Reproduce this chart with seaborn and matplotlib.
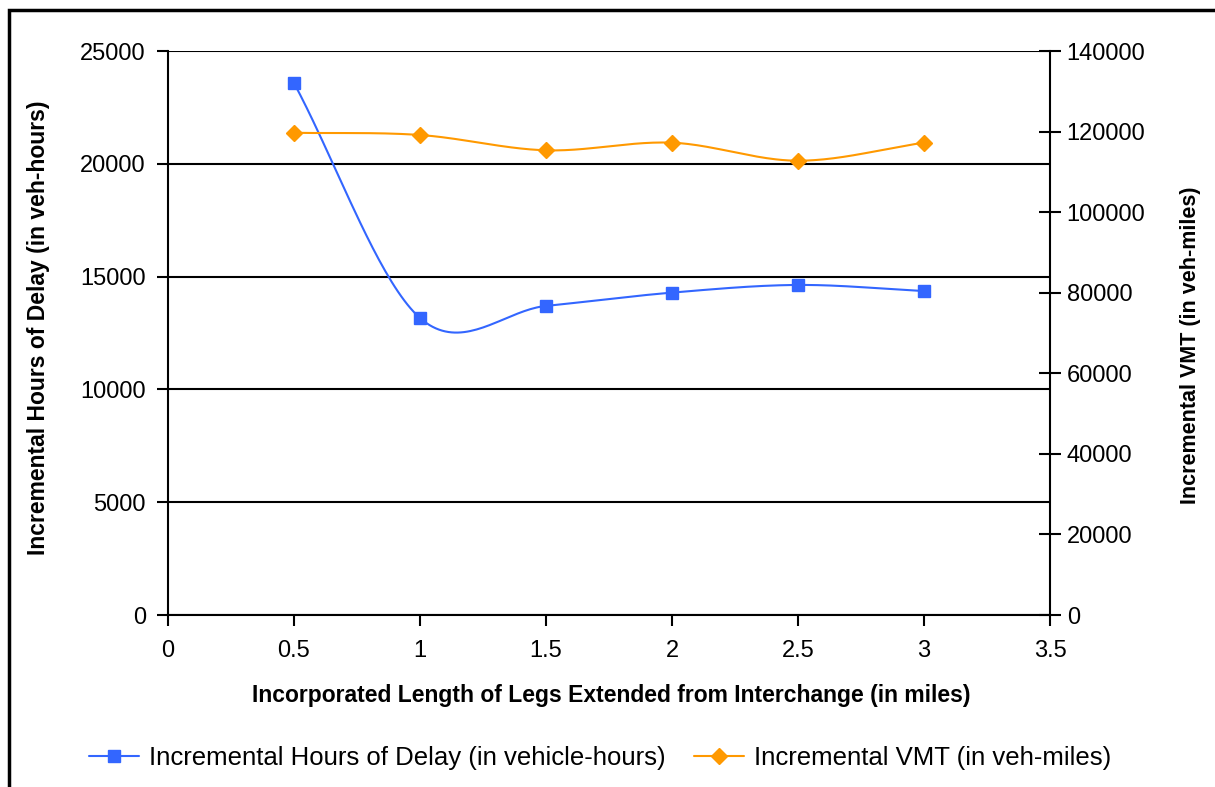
import matplotlib
matplotlib.use("Agg")
import matplotlib.pyplot as plt
import numpy as np
import pandas as pd
import seaborn as sns

# data
leg_length_mi = [0.5, 1.0, 1.5, 2.0, 2.5, 3.0]
delay_veh_hours = [23580, 13165, 13700, 14290, 14630, 14360]
vmt_veh_miles = [119700, 119150, 115350, 117240, 112770, 117240]

delay_label = "Incremental Hours of Delay (in vehicle-hours)"
vmt_label = "Incremental VMT (in veh-miles)"
x_title = "Incorporated Length of Legs Extended from Interchange (in miles)"
y_left_title = "Incremental Hours of Delay (in veh-hours)"
y_right_title = "Incremental VMT (in veh-miles)"

BLUE = "#3366FF"
ORANGE = "#FF9900"


def smooth(x, y, n=40):
    """Excel-like smoothed line: cubic Hermite with Catmull-Rom tangents."""
    x = np.asarray(x, float)
    y = np.asarray(y, float)
    m = np.zeros_like(y)
    m[1:-1] = (y[2:] - y[:-2]) / (x[2:] - x[:-2])
    m[0] = (y[1] - y[0]) / (x[1] - x[0])
    m[-1] = (y[-1] - y[-2]) / (x[-1] - x[-2])
    xs, ys = [], []
    for i in range(len(x) - 1):
        h = x[i + 1] - x[i]
        t = np.linspace(0, 1, n, endpoint=(i == len(x) - 2))
        h00 = 2 * t**3 - 3 * t**2 + 1
        h10 = t**3 - 2 * t**2 + t
        h01 = -2 * t**3 + 3 * t**2
        h11 = t**3 - t**2
        xs.append(x[i] + t * h)
        ys.append(h00 * y[i] + h10 * h * m[i] + h01 * y[i + 1] + h11 * h * m[i + 1])
    return pd.DataFrame({"x": np.concatenate(xs), "y": np.concatenate(ys)})


sns.set_style("white")
plt.rcParams["font.family"] = ["Liberation Sans", "DejaVu Sans"]
plt.rcParams["text.color"] = "black"
plt.rcParams["axes.labelcolor"] = "black"
plt.rcParams["xtick.color"] = "black"
plt.rcParams["ytick.color"] = "black"

fig = plt.figure(figsize=(12.15, 7.87), dpi=100)
ax = fig.add_axes([168 / 1215, 1 - 615 / 787, 882 / 1215, 564 / 787])
ax2 = ax.twinx()

# outer chart border
fig.patches.append(plt.Rectangle((9 / 1215, -0.05), 1.1, 1 - 10 / 787 + 0.05,
                                 transform=fig.transFigure, fill=False,
                                 edgecolor="black", linewidth=2.5))

# delay series (left axis)
sns.lineplot(data=smooth(leg_length_mi, delay_veh_hours), x="x", y="y", ax=ax,
             color=BLUE, linewidth=1.5, sort=False, estimator=None)
ax.plot(leg_length_mi, delay_veh_hours, linestyle="none", marker="s",
        markersize=8, color=BLUE, zorder=5)

# VMT series (right axis)
sns.lineplot(data=smooth(leg_length_mi, vmt_veh_miles), x="x", y="y", ax=ax2,
             color=ORANGE, linewidth=1.5, sort=False, estimator=None)
ax2.plot(leg_length_mi, vmt_veh_miles, linestyle="none", marker="D",
         markersize=8.5, color=ORANGE, zorder=5)

ax.set_xlim(0, 3.5)
ax.set_ylim(0, 25000)
ax2.set_ylim(0, 140000)
ax.set_xticks(np.arange(0, 3.51, 0.5))
ax.set_xticklabels(["0", "0.5", "1", "1.5", "2", "2.5", "3", "3.5"])
ax.set_yticks(np.arange(0, 25001, 5000))
ax2.set_yticks(np.arange(0, 140001, 20000))

ax.yaxis.grid(True, color="black", linewidth=1.5)
ax.set_axisbelow(True)
for a in (ax, ax2):
    for s in ("top", "right", "left", "bottom"):
        a.spines[s].set_visible(False)
ax.spines["left"].set_visible(True)
ax.spines["bottom"].set_visible(True)
ax2.spines["right"].set_visible(True)
for s in ("left", "bottom"):
    ax.spines[s].set_color("black")
    ax.spines[s].set_linewidth(1.5)
ax2.spines["right"].set_color("black")
ax2.spines["right"].set_linewidth(1.5)

ax.tick_params(axis="both", direction="out", length=8, width=1.5, color="black",
               labelsize=17, labelcolor="black", left=True, bottom=True)
ax.tick_params(axis="y", pad=8)
ax.tick_params(axis="x", pad=10)
ax2.tick_params(axis="y", direction="inout", length=16, width=1.5, color="black",
                labelsize=17, labelcolor="black", right=True, pad=4)

ax.set_xlabel(x_title, fontsize=16.5, fontweight="bold", color="black")
ax.xaxis.set_label_coords(0.503, -0.123)
ax.set_ylabel(y_left_title, fontsize=16.5, fontweight="bold", color="black")
ax.yaxis.set_label_coords(-0.134, 0.51)
ax2.set_ylabel(y_right_title, fontsize=15.5, fontweight="bold", color="black")
ax2.yaxis.set_label_coords(1.147, 0.479)

handles = [
    plt.Line2D([], [], color=BLUE, linewidth=1.5, marker="s", markersize=8),
    plt.Line2D([], [], color=ORANGE, linewidth=1.5, marker="D", markersize=8.5),
]
fig.legend(handles, [delay_label, vmt_label], loc="center",
           bbox_to_anchor=(600 / 1215, 1 - 758 / 787), ncol=2, frameon=False,
           fontsize=18.5, handlelength=1.95, columnspacing=1.1, handletextpad=0.4)

fig.savefig("out.png", dpi=100)
